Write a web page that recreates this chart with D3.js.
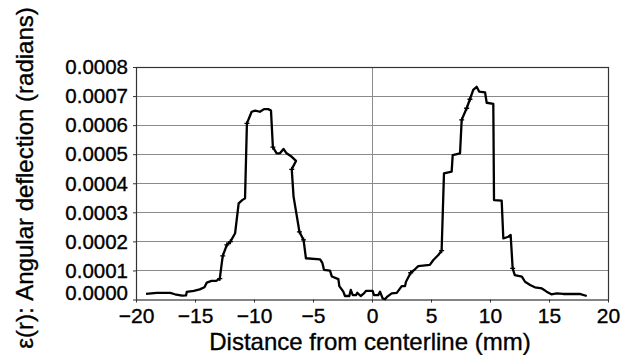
<!DOCTYPE html>
<meta charset="utf-8">
<script src="https://d3js.org/d3.v7.min.js"></script>
<style>
  body { margin: 0; background: #fff; }
  text { font-family: "Liberation Sans", Arial, Helvetica, sans-serif; fill: #000; stroke: #000; stroke-width: 0.35px; }
  .grid line { stroke: #8a8a8a; stroke-width: 1; }
  .axis path { display: none; }
  .axis line { stroke: #333; }
</style>
<body>
<svg id="chart" width="623" height="355"></svg>
<script>
// distance from centerline (mm) and angular deflection (units of 1e-4 rad)
var distMM = [-19.15, -18.25, -17.1, -16.7, -16.1, -15.76, -15.7, -15.1, -14.6, -14.2,
  -14.0, -13.6, -13.2, -12.9, -12.65, -12.3, -12.0, -11.6, -11.3, -11.0,
  -10.76, -10.6, -10.2, -9.9, -9.5, -9.15, -8.8, -8.56, -8.4, -8.08,
  -7.8, -7.5, -7.24, -6.8, -6.44, -6.8, -6.65, -6.15, -5.8, -5.6,
  -4.4, -4.2, -4.07, -3.56, -3.4, -2.85, -2.77, -2.43, -2.29, -1.92,
  -1.8, -1.63, -1.36, -1.25, -0.96, -0.68, -0.5, 0.05, 0.17, 0.53,
  0.68, 0.9, 1.1, 1.3, 1.67, 2.1, 2.52, 2.8, 2.88, 3.28,
  3.64, 3.92, 4.9, 5.2, 5.62, 5.9, 6.1, 6.75, 6.84, 7.46,
  7.6, 8.02, 8.3, 8.58, 8.87, 9.09, 9.58, 9.72, 10.28, 10.34,
  10.99, 11.13, 11.55, 11.75, 11.92, 12.1, 12.7, 12.97, 13.4, 13.8,
  14.4, 14.8, 15.2, 15.65, 16.2, 17.6, 18.2];
var deflection = [0.19, 0.23, 0.23, 0.18, 0.13, 0.14, 0.26, 0.30, 0.35, 0.42,
  0.58, 0.64, 0.64, 0.72, 1.50, 1.88, 1.99, 2.28, 3.31, 3.42,
  3.48, 6.06, 6.46, 6.50, 6.46, 6.55, 6.55, 6.50, 5.24, 5.03,
  5.03, 5.18, 5.03, 4.91, 4.77, 4.48, 3.55, 2.33, 2.05, 1.42,
  1.38, 1.25, 1.02, 0.99, 0.79, 0.70, 0.46, 0.27, 0.12, 0.12,
  0.33, 0.15, 0.15, 0.23, 0.12, 0.21, 0.30, 0.30, 0.15, 0.15,
  0.27, 0.04, 0.01, 0.10, 0.21, 0.23, 0.46, 0.46, 0.61, 0.92,
  1.04, 1.15, 1.19, 1.36, 1.53, 1.68, 4.34, 4.40, 4.97, 5.03,
  6.18, 6.58, 6.89, 7.21, 7.32, 7.15, 7.13, 6.77, 6.73, 3.42,
  3.40, 2.10, 2.16, 2.22, 1.07, 0.84, 0.79, 0.61, 0.50, 0.42,
  0.38, 0.27, 0.18, 0.21, 0.19, 0.19, 0.12];
// indices of the points that carry a small marker
var markerIdx = [13, 14, 15, 16, 21, 28, 35, 37, 38, 69, 75, 80, 81, 82, 94];
var xTicks = [-20, -15, -10, -5, 0, 5, 10, 15, 20];
var yTicks = [0, 0.0001, 0.0002, 0.0003, 0.0004, 0.0005, 0.0006, 0.0007, 0.0008];

var svg = d3.select("#chart"),
  margin = {top: 67, right: 15, bottom: 55.5, left: 136},
  width = +svg.attr("width") - margin.left - margin.right,
  height = +svg.attr("height") - margin.top - margin.bottom;

var g = svg.append("g").attr("transform", "translate(" + margin.left + "," + margin.top + ")");

var x = d3.scaleLinear().domain([-20, 20]).range([0, width]);
var y = d3.scaleLinear().domain([0, 0.0008]).range([height, 0]);

var data = distMM.map(function(d, i) { return {x: d, y: deflection[i] * 1e-4}; });

// gridlines
g.append("g").attr("class", "grid")
  .selectAll("line.h").data(yTicks.slice(1, -1)).enter().append("line")
  .attr("x1", 0).attr("x2", width)
  .attr("y1", function(d) { return Math.round(y(d)) + 0.5; })
  .attr("y2", function(d) { return Math.round(y(d)) + 0.5; });
g.select(".grid").append("line")
  .attr("x1", Math.round(x(0)) + 0.5).attr("x2", Math.round(x(0)) + 0.5)
  .attr("y1", 0).attr("y2", height);

// frame
g.append("rect")
  .attr("x", 0.5).attr("y", 0.5)
  .attr("width", width).attr("height", height)
  .attr("fill", "none").attr("stroke", "#333").attr("stroke-width", 1.2);

// axes
var xAxis = g.append("g").attr("class", "axis")
  .attr("transform", "translate(0," + height + ")")
  .call(d3.axisBottom(x).tickValues(xTicks).tickSize(3).tickPadding(5));
xAxis.selectAll("text").style("font-size", "21px").attr("dy", "0.75em");

var yAxis = g.append("g").attr("class", "axis")
  .call(d3.axisLeft(y).tickValues(yTicks).tickFormat(d3.format(".4f")).tickSize(3).tickPadding(5));
yAxis.selectAll("text").style("font-size", "20.5px")
  .attr("dy", function(d) { return d === 0 ? "0.02em" : "0.33em"; });

// curve
g.append("path")
  .datum(data)
  .attr("fill", "none")
  .attr("stroke", "#000")
  .attr("stroke-width", 2.3)
  .attr("stroke-linejoin", "round")
  .attr("d", d3.line().x(function(d) { return x(d.x); }).y(function(d) { return y(d.y); }));

// small markers
g.append("g").selectAll("path").data(markerIdx.map(function(i) { return data[i]; }))
  .enter().append("path")
  .attr("d", function(d) {
    var px = x(d.x), py = y(d.y);
    return "M" + (px - 2.5) + "," + py + "H" + (px + 2.5) + "M" + px + "," + (py - 2.5) + "V" + (py + 2.5);
  })
  .attr("stroke", "#000").attr("stroke-width", 1.3);

// axis titles
svg.append("text")
  .attr("x", 370).attr("y", 350)
  .attr("text-anchor", "middle")
  .style("font-size", "24px")
  .text("Distance from centerline (mm)");

svg.append("text")
  .attr("transform", "translate(33,178) rotate(-90)")
  .attr("text-anchor", "middle")
  .style("font-size", "24px")
  .text("ε(r): Angular deflection (radians)");
</script>
</body>
